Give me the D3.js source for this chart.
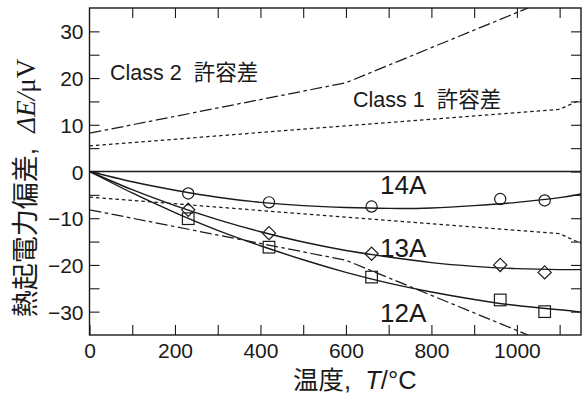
<!DOCTYPE html>
<html>
<head>
<meta charset="utf-8">
<script src="https://cdn.jsdelivr.net/npm/d3@7"></script>
<style>
  body { margin: 0; background: #fff; }
  svg { display: block; }
  text { fill: #1a1a1a; }
</style>
</head>
<body>
<svg id="chart" width="587" height="396"></svg>
<script>
// Measured thermoelectric deviation of three thermocouple wires (µV)
const measT   = [231, 420, 660, 961, 1065];
const meas14A = [-4.7, -6.6, -7.5, -5.9, -6.2];
const meas13A = [-8.2, -13.2, -17.6, -20.0, -21.6];
const meas12A = [-10.1, -16.2, -22.6, -27.5, -30.0];

// Fitted curves through the measurements
const fitT   = [0, 100, 200, 300, 400, 500, 600, 700, 800, 900, 1000, 1100, 1150];
const fit14A = [0, -2.2, -4.0, -5.5, -6.6, -7.3, -7.7, -7.9, -7.8, -7.3, -6.6, -5.6, -4.8];
const fit13A = [0, -3.9, -7.3, -10.3, -12.9, -15.1, -16.9, -18.3, -19.5, -20.3, -20.8, -21.0, -21.0];
const fit12A = [0, -4.6, -8.8, -12.6, -15.9, -18.9, -21.6, -23.9, -25.8, -27.4, -28.7, -29.6, -30.1];

// Tolerance envelopes (±)
const class1T   = [0, 1100, 1150];
const class1Tol = [5.5, 13.3, 15.4];
const class2T   = [0, 600, 1026];
const class2Tol = [8.2, 19.0, 35.0];

// Axis ticks
const xTickLabels = [0, 200, 400, 600, 800, 1000];
const xMinorTicks = [100, 200, 300, 400, 500, 600, 700, 800, 900, 1000, 1100];
const yTickLabels = [-30, -20, -10, 0, 10, 20, 30];
const yMinorTicks = [-30, -25, -20, -15, -10, -5, 0, 5, 10, 15, 20, 25, 30];

const seriesNames = ["14A", "13A", "12A"];
const classNames = ["Class 2  許容差", "Class 1  許容差"];

const svg = d3.select("#chart");
const L = 89.5, R = 581, T = 8, B = 335;

const x = d3.scaleLinear().domain([0, 1150]).range([L, R]);
const y = d3.scaleLinear().domain([-35, 35]).range([B, T]);

const sans = "'Liberation Sans', Arial, Helvetica, sans-serif";
const serif = "'Liberation Serif', 'Times New Roman', serif";
const cjk = "'Noto Sans CJK JP', 'Noto Sans CJK SC', sans-serif";

svg.append("defs").append("clipPath").attr("id", "plot")
  .append("rect").attr("x", L).attr("y", T).attr("width", R - L).attr("height", B - T);

const plot = svg.append("g").attr("clip-path", "url(#plot)");

// zero line
plot.append("line")
  .attr("x1", L).attr("x2", R).attr("y1", y(0)).attr("y2", y(0))
  .attr("stroke", "#1a1a1a").attr("stroke-width", 1.4);

const lineOf = (xs, ys, curve) => d3.line()
  .x((d, i) => x(xs[i])).y(d => y(d)).curve(curve)(ys);

// tolerance lines
[1, -1].forEach(s => {
  plot.append("path")
    .attr("d", lineOf(class2T, class2Tol.map(v => s * v), d3.curveLinear))
    .attr("fill", "none").attr("stroke", "#1a1a1a").attr("stroke-width", 1.25)
    .attr("stroke-dasharray", "12,3.5,3.5,3.5");
  plot.append("path")
    .attr("d", lineOf(class1T, class1Tol.map(v => s * v), d3.curveLinear))
    .attr("fill", "none").attr("stroke", "#1a1a1a").attr("stroke-width", 1.25)
    .attr("stroke-dasharray", "3.5,3");
});

// fitted curves
[fit14A, fit13A, fit12A].forEach(f => {
  plot.append("path")
    .attr("d", lineOf(fitT, f, d3.curveNatural))
    .attr("fill", "none").attr("stroke", "#1a1a1a").attr("stroke-width", 1.4);
});

// markers
const mk = svg.append("g").attr("fill", "none").attr("stroke", "#1a1a1a").attr("stroke-width", 1.2);
mk.selectAll("circle").data(meas14A).join("circle")
  .attr("cx", (d, i) => x(measT[i])).attr("cy", d => y(d)).attr("r", 5.6);
mk.selectAll("path.dia").data(meas13A).join("path").attr("class", "dia")
  .attr("d", (d, i) => {
    const cx = x(measT[i]), cy = y(d), h = 6.6;
    return `M${cx},${cy - h}L${cx + h},${cy}L${cx},${cy + h}L${cx - h},${cy}Z`;
  });
mk.selectAll("rect").data(meas12A).join("rect")
  .attr("x", (d, i) => x(measT[i]) - 5.8).attr("y", d => y(d) - 5.8)
  .attr("width", 11.6).attr("height", 11.6);

// axes
const tickLabelSize = 21;
const axisStyle = g => {
  g.selectAll(".domain").remove();
  g.selectAll(".tick line").attr("stroke", "#1a1a1a").attr("stroke-width", 1.1);
  g.selectAll(".tick text").attr("font-family", sans).attr("font-size", tickLabelSize).attr("fill", "#1a1a1a");
};

svg.append("g").attr("transform", `translate(${L},0)`)
  .call(d3.axisLeft(y).tickValues(yMinorTicks).tickSize(-10).tickPadding(6)
    .tickFormat(d => yTickLabels.includes(d) ? d3.format("")(d) : ""))
  .call(axisStyle)
  .call(g => g.selectAll("text").attr("dy", "0.36em"));
svg.append("g").attr("transform", `translate(${R},0)`)
  .call(d3.axisRight(y).tickValues(yMinorTicks).tickSize(-10).tickFormat(""))
  .call(axisStyle);
svg.append("g").attr("transform", `translate(0,${B})`)
  .call(d3.axisBottom(x).tickValues(xMinorTicks.concat([0])).tickSize(-10).tickPadding(8)
    .tickFormat(d => xTickLabels.includes(d) ? d : ""))
  .call(axisStyle)
  .call(g => g.selectAll("text").attr("dy", "0.72em"));
svg.append("g").attr("transform", `translate(0,${T})`)
  .call(d3.axisTop(x).tickValues(xMinorTicks).tickSize(-10).tickFormat(""))
  .call(axisStyle);

// frame
svg.append("rect").attr("x", L).attr("y", T).attr("width", R - L).attr("height", B - T)
  .attr("fill", "none").attr("stroke", "#1a1a1a").attr("stroke-width", 1.4);

// series labels
const labelPos = [[380, -4.8], [380, -18.2], [380, -32.2]];
seriesNames.forEach((n, i) => {
  svg.append("text").attr("x", labelPos[i][0]).attr("y", y(labelPos[i][1]))
    .attr("font-family", sans).attr("font-size", 26).text(n);
});

// tolerance labels
const classPos = [[110, 80], [353, 106.5]];
classNames.forEach((n, i) => {
  const t = svg.append("text").attr("x", classPos[i][0]).attr("y", classPos[i][1])
    .attr("font-size", 21.5).attr("xml:space", "preserve");
  const parts = n.split("  ");
  t.append("tspan").attr("font-family", sans).text(parts[0] + "  ");
  t.append("tspan").attr("font-family", cjk).text(parts[1]);
});

// x-axis title
const xt = svg.append("text").attr("x", 293).attr("y", 388.5).attr("font-size", 25.5)
  .attr("xml:space", "preserve");
xt.append("tspan").attr("font-family", cjk).text("温度");
xt.append("tspan").attr("font-family", sans).text(",  ");
xt.append("tspan").attr("font-family", sans).attr("font-style", "italic").text("T");
xt.append("tspan").attr("font-family", sans).text("/°C");

// y-axis title
const yt = svg.append("text").attr("transform", "translate(35,188) rotate(-90)")
  .attr("text-anchor", "middle").attr("font-size", 27).attr("xml:space", "preserve");
yt.append("tspan").attr("font-family", cjk).text("熱起電力偏差");
yt.append("tspan").attr("font-family", sans).text(",  ");
yt.append("tspan").attr("font-family", serif).attr("font-style", "italic").text("ΔE");
yt.append("tspan").attr("font-family", serif).attr("font-style", "italic").text("/");
yt.append("tspan").attr("font-family", serif).text("μV");
</script>
</body>
</html>
